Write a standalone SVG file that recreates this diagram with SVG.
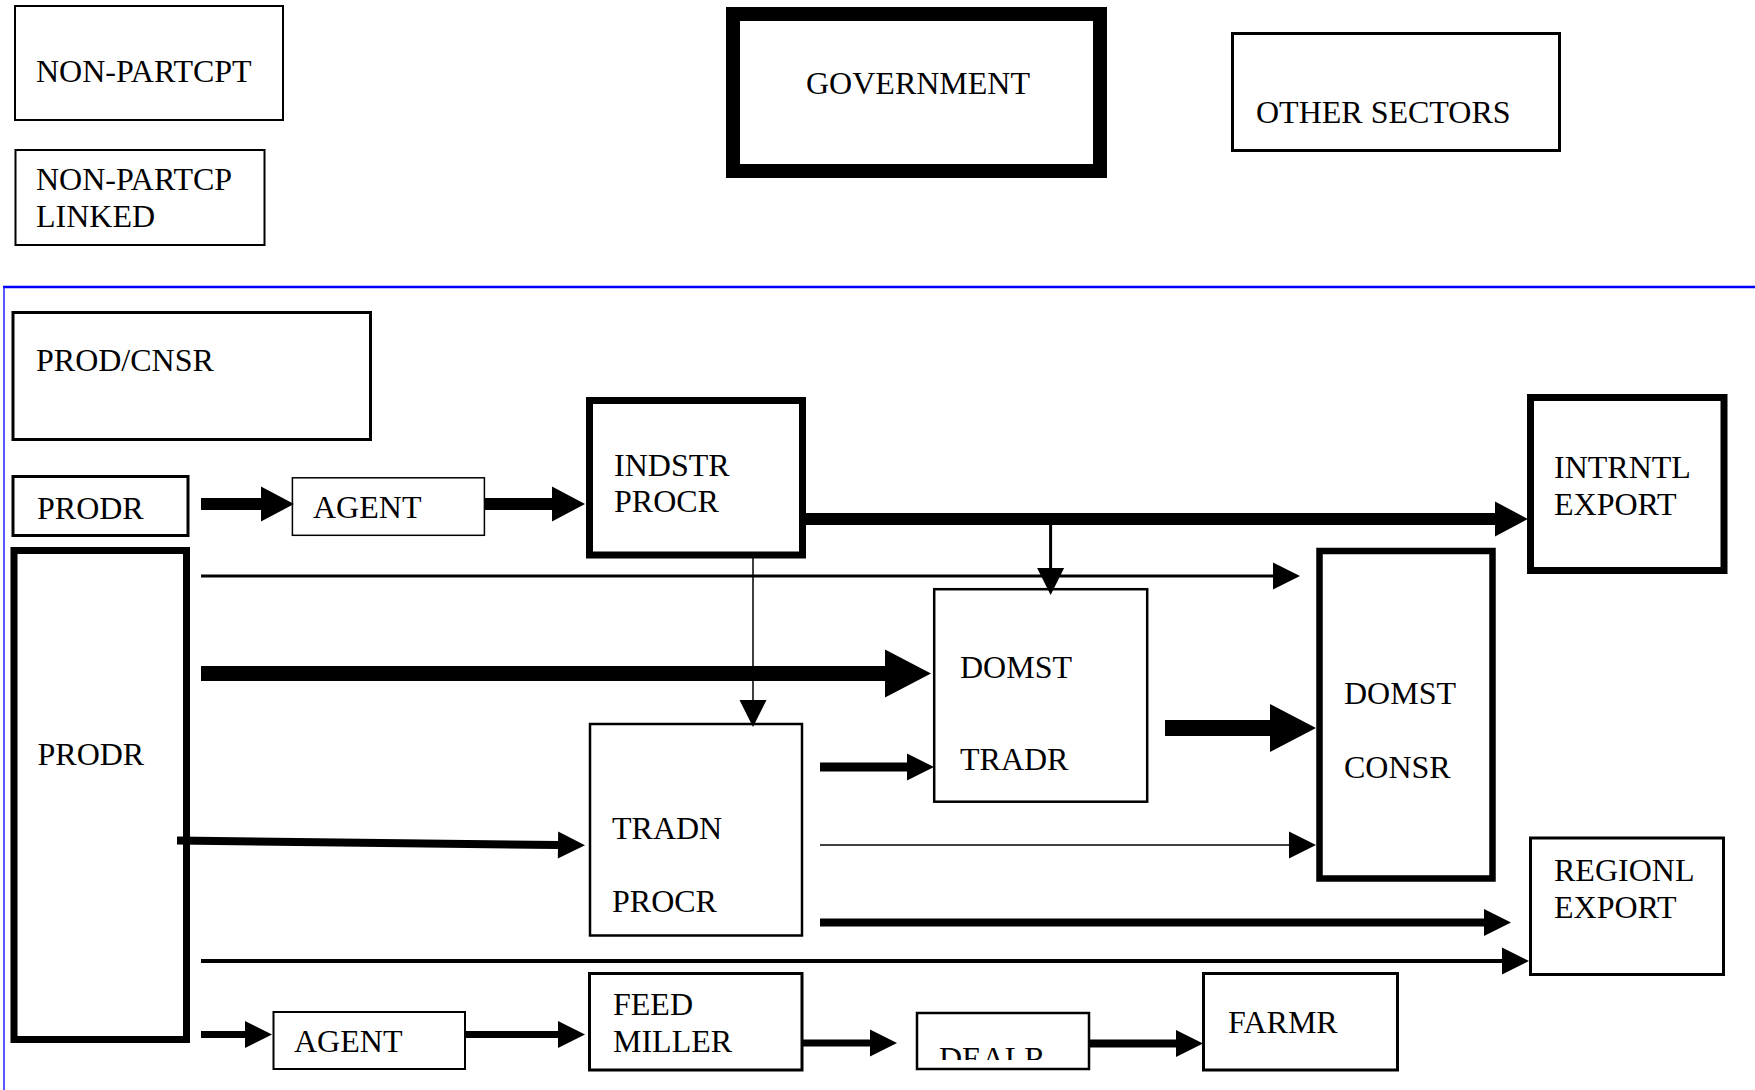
<svg xmlns="http://www.w3.org/2000/svg" width="1755" height="1090" viewBox="0 0 1755 1090">
<style>
.box{fill:#fff;stroke:#000}
.t{font-family:"Liberation Serif","Times New Roman",serif;font-size:32px;fill:#000}
.c{stroke:#000;fill:none;stroke-linecap:butt}
</style>
<defs>
<marker id="hb" markerUnits="userSpaceOnUse" orient="auto" refX="0" refY="0" markerWidth="48" markerHeight="48" overflow="visible"><path d="M0,-24 L46,0 L0,24 Z" fill="#000"/></marker>
<marker id="hm" markerUnits="userSpaceOnUse" orient="auto" refX="0" refY="0" markerWidth="34" markerHeight="36" overflow="visible"><path d="M0,-17.5 L33,0 L0,17.5 Z" fill="#000"/></marker>
<marker id="hs" markerUnits="userSpaceOnUse" orient="auto" refX="0" refY="0" markerWidth="28" markerHeight="28" overflow="visible"><path d="M0,-13.5 L27,0 L0,13.5 Z" fill="#000"/></marker>
<clipPath id="dealrClip"><rect x="917" y="1013" width="172" height="47"/></clipPath>
</defs>
<g id="frame">
<line x1="3" y1="287" x2="1755" y2="287" stroke="#0000ff" stroke-width="2.5"/>
<line x1="4" y1="287" x2="4" y2="1090" stroke="#2020ff" stroke-width="1.5"/>
</g>
<g id="non-partcpt"><rect class="box" x="15" y="6" width="268" height="114" stroke-width="2"/><text class="t" x="36" y="82">NON-PARTCPT</text></g>
<g id="non-partcp-linked"><rect class="box" x="15.5" y="150" width="249" height="95" stroke-width="2"/><text class="t" x="36" y="190">NON-PARTCP</text><text class="t" x="36" y="227">LINKED</text></g>
<g id="government"><rect class="box" x="733" y="14" width="367" height="157" stroke-width="14"/><text class="t" x="806" y="94">GOVERNMENT</text></g>
<g id="other-sectors"><rect class="box" x="1232.5" y="33.5" width="327" height="117" stroke-width="3"/><text class="t" x="1256" y="123">OTHER SECTORS</text></g>
<g id="prod-cnsr"><rect class="box" x="13" y="312.5" width="357.5" height="127" stroke-width="3"/><text class="t" x="36" y="371">PROD/CNSR</text></g>
<g id="prodr-small"><rect class="box" x="13" y="476.5" width="175" height="59" stroke-width="3"/><text class="t" x="37" y="519">PRODR</text></g>
<g id="agent-top"><rect class="box" x="292.4" y="477.8" width="192" height="57.5" stroke-width="1.5"/><text class="t" x="313" y="518">AGENT</text></g>
<g id="indstr-procr"><rect class="box" x="589.5" y="400.5" width="213" height="154.5" stroke-width="7"/><text class="t" x="614" y="476">INDSTR</text><text class="t" x="614" y="512">PROCR</text></g>
<g id="intrntl-export"><rect class="box" x="1530.5" y="397.5" width="193.5" height="173" stroke-width="7"/><text class="t" x="1554" y="478">INTRNTL</text><text class="t" x="1554" y="515">EXPORT</text></g>
<g id="prodr-big"><rect class="box" x="14" y="550.5" width="172.5" height="489" stroke-width="7"/><text class="t" x="37.5" y="765">PRODR</text></g>
<g id="domst-tradr"><rect class="box" x="934.2" y="589.2" width="213" height="212.5" stroke-width="2.5"/><text class="t" x="960" y="678">DOMST</text><text class="t" x="960" y="770">TRADR</text></g>
<g id="domst-consr"><rect class="box" x="1319.5" y="551" width="173" height="327.5" stroke-width="6.5"/><text class="t" x="1344" y="704">DOMST</text><text class="t" x="1344" y="778">CONSR</text></g>
<g id="tradn-procr"><rect class="box" x="590" y="724" width="212" height="211.5" stroke-width="2.5"/><text class="t" x="612" y="839">TRADN</text><text class="t" x="612" y="912">PROCR</text></g>
<g id="regionl-export"><rect class="box" x="1530.5" y="838" width="193" height="136.5" stroke-width="3"/><text class="t" x="1554" y="881">REGIONL</text><text class="t" x="1554" y="918">EXPORT</text></g>
<g id="agent-bottom"><rect class="box" x="273.5" y="1012" width="191.5" height="57" stroke-width="2"/><text class="t" x="294" y="1052">AGENT</text></g>
<g id="feed-miller"><rect class="box" x="589.5" y="973.5" width="212.5" height="96.5" stroke-width="3"/><text class="t" x="613" y="1015">FEED</text><text class="t" x="613" y="1052">MILLER</text></g>
<g id="dealr"><rect class="box" x="917" y="1013" width="172" height="56" stroke-width="2.5"/><text class="t" x="939" y="1069" clip-path="url(#dealrClip)">DEALR</text></g>
<g id="farmr"><rect class="box" x="1203.5" y="973.5" width="194" height="96.5" stroke-width="3"/><text class="t" x="1228" y="1033">FARMR</text></g>
<g id="connectors">
<line class="c" x1="201" y1="504" x2="261" y2="504" stroke-width="12" marker-end="url(#hm)"/>
<line class="c" x1="485" y1="504" x2="552" y2="504" stroke-width="12" marker-end="url(#hm)"/>
<line class="c" x1="805" y1="519" x2="1495" y2="519" stroke-width="12" marker-end="url(#hm)"/>
<line class="c" x1="1050.6" y1="525" x2="1050.6" y2="568" stroke-width="3" marker-end="url(#hs)"/>
<line class="c" x1="201" y1="576" x2="1273" y2="576" stroke-width="3" marker-end="url(#hs)"/>
<line class="c" x1="753" y1="558" x2="753" y2="700" stroke-width="1.5" marker-end="url(#hs)"/>
<line class="c" x1="201" y1="673.5" x2="885" y2="673.5" stroke-width="15" marker-end="url(#hb)"/>
<line class="c" x1="1165" y1="728" x2="1270" y2="728" stroke-width="16" marker-end="url(#hb)"/>
<line class="c" x1="820" y1="767" x2="907" y2="767" stroke-width="9" marker-end="url(#hs)"/>
<line class="c" x1="177" y1="840.5" x2="558" y2="845" stroke-width="8" marker-end="url(#hs)"/>
<line class="c" x1="820" y1="845" x2="1289" y2="845" stroke-width="1.5" marker-end="url(#hs)"/>
<line class="c" x1="820" y1="922.5" x2="1484" y2="922.5" stroke-width="8" marker-end="url(#hs)"/>
<line class="c" x1="201" y1="961" x2="1502" y2="961" stroke-width="4" marker-end="url(#hs)"/>
<line class="c" x1="201" y1="1034.5" x2="245" y2="1034.5" stroke-width="7" marker-end="url(#hs)"/>
<line class="c" x1="466" y1="1034.5" x2="558" y2="1034.5" stroke-width="7" marker-end="url(#hs)"/>
<line class="c" x1="803" y1="1043" x2="870" y2="1043" stroke-width="7" marker-end="url(#hs)"/>
<line class="c" x1="1090" y1="1043.5" x2="1176" y2="1043.5" stroke-width="8" marker-end="url(#hs)"/>
</g>
</svg>
